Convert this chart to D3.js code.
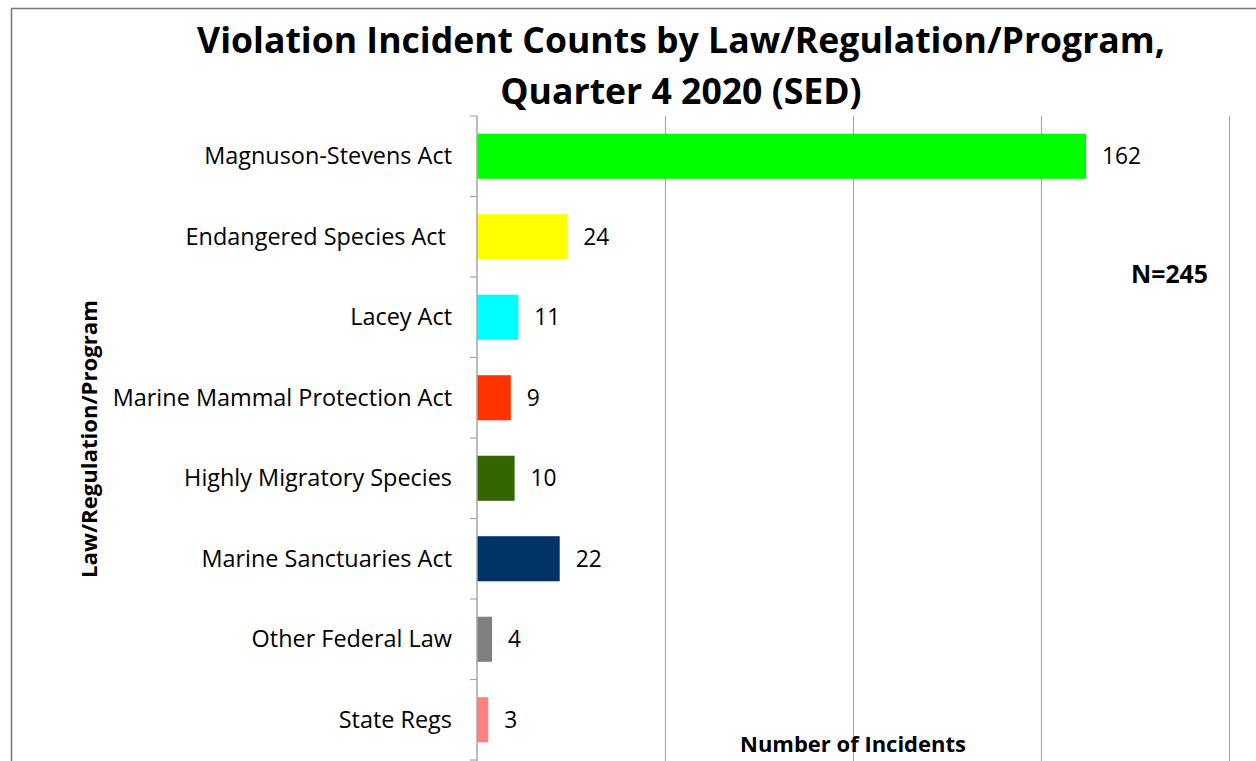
<!DOCTYPE html>
<html lang="en">
<head>
    <meta charset="UTF-8">
    <title>Violation Incident Counts</title>
    <script src="https://d3js.org/d3.v7.min.js"></script>
    <style>
        body {
            margin: 0;
            padding: 0;
            background: #fff;
            font-family: 'Open Sans', sans-serif;
            overflow: hidden;
        }
        svg { display: block; }
        text { white-space: pre; }
    </style>
</head>
<body>
    <script>
        // data
        const categories = [
            "Magnuson-Stevens Act",
            "Endangered Species Act ",
            "Lacey Act",
            "Marine Mammal Protection Act",
            "Highly Migratory Species",
            "Marine Sanctuaries Act",
            "Other Federal Law",
            "State Regs"
        ];
        const counts = [162, 24, 11, 9, 10, 22, 4, 3];
        const barColors = ["#00ff00", "#ffff00", "#00ffff", "#ff3300", "#336600", "#003366", "#808080", "#ff8080"];
        const xTicks = [0, 50, 100, 150, 200];
        const titleLines = ["Violation Incident Counts by Law/Regulation/Program,", "Quarter 4 2020 (SED)"];
        const totalLabel = "N=245";

        const width = 1256, height = 761;
        const margin = { top: 116, right: 27, bottom: 0, left: 477 };

        const svg = d3.select("body").append("svg")
            .attr("width", width)
            .attr("height", height);

        // outer chart frame (cropped on the right and bottom)
        svg.append("path")
            .attr("d", `M11.5,${height + 2}V8.5H${width + 2}`)
            .attr("fill", "none")
            .attr("stroke", "#777")
            .attr("stroke-width", 1.5);

        const x = d3.scaleLinear()
            .domain([0, 200])
            .range([margin.left, width - margin.right]);

        const y = d3.scaleBand()
            .domain(categories)
            .range([margin.top, margin.top + 80.5 * categories.length])
            .paddingInner(0.44)
            .paddingOuter(0.22);

        // size a text so that it spans the given width
        function fit(sel, target) {
            const base = 20;
            sel.style("font-size", base + "px");
            const w = sel.node().getComputedTextLength();
            sel.style("font-size", (base * target / w).toFixed(2) + "px");
        }

        // vertical gridlines
        svg.append("g")
            .selectAll("line")
            .data(xTicks.slice(1))
            .join("line")
            .attr("x1", d => x(d) + 0.5)
            .attr("x2", d => x(d) + 0.5)
            .attr("y1", margin.top)
            .attr("y2", height)
            .attr("stroke", "#a6a6a6")
            .attr("stroke-width", 1.2);

        // bars
        svg.append("g")
            .selectAll("rect")
            .data(counts)
            .join("rect")
            .attr("x", x(0))
            .attr("y", (d, i) => y(categories[i]))
            .attr("width", d => x(d) - x(0))
            .attr("height", y.bandwidth())
            .attr("fill", (d, i) => barColors[i]);

        // category axis
        const band = 80.5;
        const yAxis = svg.append("g")
            .attr("transform", `translate(${margin.left},0)`);
        yAxis.append("line")
            .attr("x1", 0).attr("x2", 0)
            .attr("y1", margin.top).attr("y2", height)
            .attr("stroke", "#a6a6a6")
            .attr("stroke-width", 1.5);
        yAxis.selectAll(".tick")
            .data(d3.range(categories.length + 1))
            .join("line")
            .attr("class", "tick")
            .attr("x1", -7).attr("x2", 0)
            .attr("y1", i => margin.top + i * band)
            .attr("y2", i => margin.top + i * band)
            .attr("stroke", "#a6a6a6")
            .attr("stroke-width", 1.2);

        const catLabels = svg.append("g")
            .selectAll("text")
            .data(categories)
            .join("text")
            .attr("x", 452)
            .attr("y", d => y(d) + y.bandwidth() / 2)
            .attr("dy", "0.35em")
            .attr("text-anchor", "end")
            .attr("fill", "#000")
            .text(d => d);
        fit(catLabels.filter((d, i) => i === 0), 248);
        catLabels.style("font-size", catLabels.filter((d, i) => i === 0).style("font-size"));

        // value labels
        const valLabels = svg.append("g")
            .selectAll("text")
            .data(counts)
            .join("text")
            .attr("x", d => x(d) + 16)
            .attr("y", (d, i) => y(categories[i]) + y.bandwidth() / 2)
            .attr("dy", "0.35em")
            .attr("fill", "#000")
            .text(d => d);
        fit(valLabels.filter((d, i) => i === 0), 39);
        valLabels.style("font-size", valLabels.filter((d, i) => i === 0).style("font-size"));

        // titles
        const t1 = svg.append("text")
            .attr("x", 681).attr("y", 53)
            .attr("text-anchor", "middle")
            .style("font-weight", "bold")
            .text(titleLines[0]);
        fit(t1, 968);
        svg.append("text")
            .attr("x", 681).attr("y", 104)
            .attr("text-anchor", "middle")
            .style("font-weight", "bold")
            .style("font-size", t1.style("font-size"))
            .text(titleLines[1]);

        const yt = svg.append("text")
            .attr("transform", "translate(97,439) rotate(-90)")
            .attr("text-anchor", "middle")
            .style("font-weight", "bold")
            .text("Law/Regulation/Program");
        fit(yt, 278);

        const xt = svg.append("text")
            .attr("x", 853).attr("y", 752)
            .attr("text-anchor", "middle")
            .style("font-weight", "bold")
            .text("Number of Incidents");
        fit(xt, 226);

        const nt = svg.append("text")
            .attr("x", 1131).attr("y", 283)
            .style("font-weight", "bold")
            .text(totalLabel);
        fit(nt, 77);
    </script>
</body>
</html>
